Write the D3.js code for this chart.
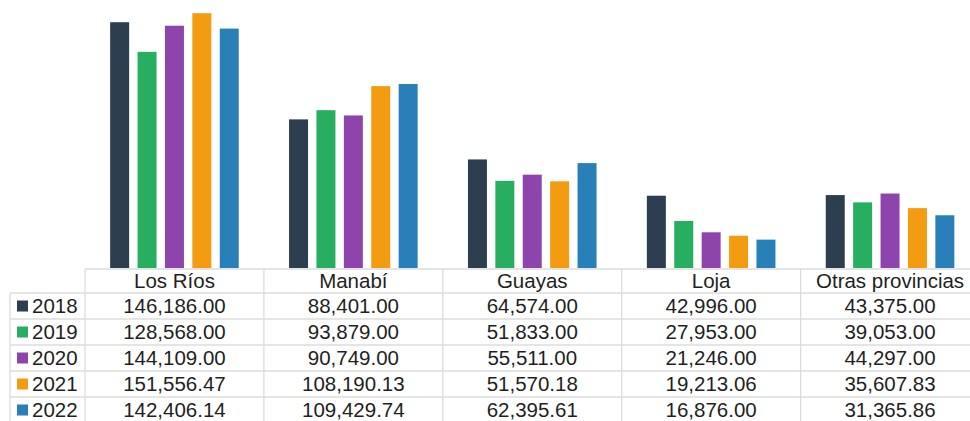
<!DOCTYPE html>
<html>
<head>
<meta charset="utf-8">
<script src="https://cdn.jsdelivr.net/npm/d3@7/dist/d3.min.js"></script>
<style>
  html, body { margin: 0; padding: 0; background: #fff; }
  svg { display: block; }
  text { font-family: "Liberation Sans", Arial, sans-serif; }
</style>
</head>
<body>
<svg id="chart" width="970" height="421"></svg>
<script>
// ---- data ----
const categories = ["Los Ríos", "Manabí", "Guayas", "Loja", "Otras provincias"];
const years = ["2018", "2019", "2020", "2021", "2022"];
const colors = ["#2c3e50", "#27ae60", "#8e44ad", "#f39c12", "#2980b9"];
const v2018 = [146186.00, 88401.00, 64574.00, 42996.00, 43375.00];
const v2019 = [128568.00, 93879.00, 51833.00, 27953.00, 39053.00];
const v2020 = [144109.00, 90749.00, 55511.00, 21246.00, 44297.00];
const v2021 = [151556.47, 108190.13, 51570.18, 19213.06, 35607.83];
const v2022 = [142406.14, 109429.74, 62395.61, 16876.00, 31365.86];
const series = [v2018, v2019, v2020, v2021, v2022];

// ---- layout ----
const svg = d3.select("#chart");
const colW = 178.9;
const tableLeft = 85;
const labelLeft = 10;
const baseY = 268;
const headerTop = 269;
const headerH = 24;
const rowH = 26;

const x0 = d3.scaleBand().domain(categories)
  .range([tableLeft, tableLeft + colW * categories.length])
  .paddingInner(0).paddingOuter(0);
const x1 = d3.scaleBand().domain(years)
  .range([0, x0.bandwidth()])
  .paddingInner(0.307).paddingOuter(0.918);
const y = d3.scaleLinear().domain([0, 160000]).range([baseY, -1]);

// ---- bars ----
const groups = svg.append("g").selectAll("g")
  .data(categories).join("g")
  .attr("transform", d => `translate(${x0(d)},0)`);

groups.selectAll("rect")
  .data((c, ci) => years.map((yr, yi) => ({ yr, yi, v: series[yi][ci] })))
  .join("rect")
  .attr("x", d => x1(d.yr))
  .attr("width", x1.bandwidth())
  .attr("y", d => y(d.v))
  .attr("height", d => baseY - y(d.v))
  .attr("fill", d => colors[d.yi]);

// ---- table grid ----
const grid = svg.append("g").attr("stroke", "#dcdcdc").attr("stroke-width", 1.3).attr("fill", "none");
const rightEdge = tableLeft + colW * categories.length;
const bottom = headerTop + headerH + rowH * years.length;
// header top line
grid.append("line").attr("x1", tableLeft).attr("x2", rightEdge).attr("y1", headerTop).attr("y2", headerTop);
// row lines
for (let i = 0; i <= years.length; i++) {
  const yy = headerTop + headerH + i * rowH;
  grid.append("line").attr("x1", labelLeft).attr("x2", rightEdge).attr("y1", yy).attr("y2", yy);
}
// vertical lines
grid.append("line").attr("x1", labelLeft).attr("x2", labelLeft).attr("y1", headerTop + headerH).attr("y2", bottom);
categories.forEach((c, i) => {
  grid.append("line").attr("x1", x0(c)).attr("x2", x0(c)).attr("y1", headerTop).attr("y2", bottom);
});
grid.append("line").attr("x1", rightEdge).attr("x2", rightEdge).attr("y1", headerTop).attr("y2", bottom);

const fs = 20.5;
const textColor = "#1f1f1f";
// header labels
svg.append("g").selectAll("text").data(categories).join("text")
  .attr("x", d => x0(d) + x0.bandwidth() / 2)
  .attr("y", headerTop + headerH / 2)
  .attr("dy", "0.36em")
  .attr("text-anchor", "middle")
  .attr("font-size", fs)
  .attr("fill", textColor)
  .text(d => d);

// row labels with legend squares
const fmt = d3.format(",.2f");
years.forEach((yr, yi) => {
  const cy = headerTop + headerH + yi * rowH + rowH / 2;
  svg.append("rect").attr("x", 17).attr("y", cy - 5.5).attr("width", 11).attr("height", 11).attr("fill", colors[yi]);
  svg.append("text").attr("x", 32).attr("y", cy).attr("dy", "0.36em")
    .attr("font-size", fs).attr("fill", textColor).text(yr);
  categories.forEach((c, ci) => {
    svg.append("text")
      .attr("x", x0(c) + x0.bandwidth() / 2)
      .attr("y", cy).attr("dy", "0.36em")
      .attr("text-anchor", "middle")
      .attr("font-size", fs).attr("fill", textColor)
      .text(fmt(series[yi][ci]));
  });
});
</script>
</body>
</html>
